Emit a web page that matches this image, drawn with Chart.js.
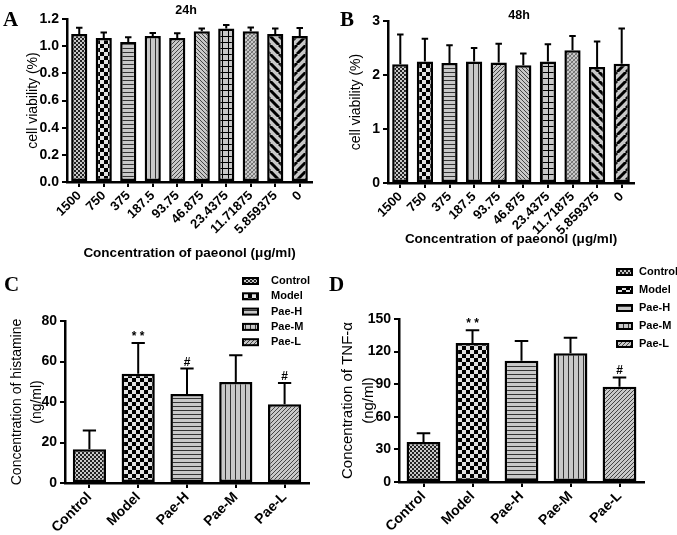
<!DOCTYPE html>
<html>
<head>
<meta charset="utf-8">
<script src="https://cdn.jsdelivr.net/npm/chart.js@4.4.0/dist/chart.umd.min.js"></script>
<style>
  body { margin: 0; background: #fff; }
  #page { position: relative; width: 677px; height: 535px; overflow: hidden; }
  canvas { position: absolute; }
  .letter { position: absolute; font: bold 21px "Liberation Serif", "Times New Roman", serif; line-height: 21px; color: #000; }
</style>
</head>
<body>
<div id="page">
  <canvas id="chartA" width="338" height="270" style="left:0;top:0"></canvas>
  <canvas id="chartB" width="339" height="270" style="left:338px;top:0"></canvas>
  <canvas id="chartC" width="338" height="265" style="left:0;top:270px"></canvas>
  <canvas id="chartD" width="339" height="273" style="left:338px;top:262px"></canvas>
  <div class="letter" style="left:3px;top:9px">A</div>
  <div class="letter" style="left:340px;top:9px">B</div>
  <div class="letter" style="left:4px;top:274px">C</div>
  <div class="letter" style="left:329px;top:274px">D</div>
</div>
<script>
// concentrations of paeonol (ug/ml)
var concLabels = ['1500', '750', '375', '187.5', '93.75', '46.875', '23.4375', '11.71875', '5.859375', '0'];
var via24 = [1.09, 1.06, 1.03, 1.075, 1.06, 1.11, 1.13, 1.11, 1.09, 1.075];
var via24Sd = [0.045, 0.04, 0.035, 0.022, 0.035, 0.02, 0.026, 0.027, 0.04, 0.059];
var via48 = [2.20, 2.25, 2.22, 2.25, 2.23, 2.18, 2.25, 2.46, 2.15, 2.21];
var via48Sd = [0.55, 0.42, 0.33, 0.25, 0.35, 0.22, 0.32, 0.26, 0.47, 0.65];
var yTicksA = [0, 0.2, 0.4, 0.6, 0.8, 1.0, 1.2];
var yTicksB = [0, 1, 2, 3];

var groups = ['Control', 'Model', 'Pae-H', 'Pae-M', 'Pae-L'];
var histamine = [16.7, 54.0, 44.0, 49.9, 38.9];
var histamineSd = [9.2, 15.1, 12.5, 13.2, 10.5];
var histamineMarks = ['', '* *', '#', '', '#'];
var tnf = [36.9, 127.9, 111.6, 118.4, 87.6];
var tnfSd = [8.0, 11.7, 18.1, 14.4, 8.6];
var tnfMarks = ['', '* *', '', '', '#'];
var yTicksC = [0, 20, 40, 60, 80];
var yTicksD = [0, 30, 60, 90, 120, 150];

Chart.defaults.font.family = '"Liberation Sans", Arial, sans-serif';
Chart.defaults.color = '#000';

// hatch fills, Prism style
function makePattern(kind) {
  var sizes = {fine: 4, checker: 8, hlines: 4, vlines: 5, fwd: 4, back: 4, grid: 6, cross: 4, bigBack: 9, bigFwd: 9};
  var s = sizes[kind];
  var c = document.createElement('canvas');
  c.width = s; c.height = s;
  var g = c.getContext('2d');
  g.fillStyle = kind == 'checker' ? '#e2e2e2' : '#c8c8c8';
  g.fillRect(0, 0, s, s);
  g.fillStyle = '#000';
  g.strokeStyle = '#000';
  function diag(w, up, col) {
    g.lineWidth = w;
    g.strokeStyle = col || '#000';
    g.beginPath();
    for (var k = -1; k <= 1; k++) {
      if (up) { g.moveTo(k * s, s); g.lineTo(k * s + s, 0); }
      else { g.moveTo(k * s, 0); g.lineTo(k * s + s, s); }
    }
    g.stroke();
  }
  if (kind == 'fine') { g.fillStyle = '#222'; g.fillRect(0, 0, 2, 2); g.fillRect(2, 2, 2, 2); }
  if (kind == 'checker') { g.fillRect(0, 0, 4, 4); g.fillRect(4, 4, 4, 4); }
  if (kind == 'hlines') { g.fillStyle = '#333'; g.fillRect(0, 0, s, 1); }
  if (kind == 'vlines') { g.fillStyle = '#333'; g.fillRect(0, 0, 1, s); }
  if (kind == 'fwd') diag(1, true, '#444');
  if (kind == 'back') diag(1, false, '#444');
  if (kind == 'grid') { g.fillRect(0, 0, s, 1); g.fillRect(0, 0, 1, s); }
  if (kind == 'cross') { diag(0.8, true, '#555'); diag(0.8, false, '#777'); }
  if (kind == 'bigBack') diag(3, false);
  if (kind == 'bigFwd') diag(3, true);
  return g.createPattern(c, 'repeat');
}

var fillsAB = ['fine', 'checker', 'hlines', 'vlines', 'fwd', 'back', 'grid', 'cross', 'bigBack', 'bigFwd'].map(makePattern);
var fillsCD = ['fine', 'checker', 'hlines', 'vlines', 'fwd'].map(makePattern);

// error bars, significance marks, panel titles and legends
var extras = {
  id: 'extras',
  afterDatasetsDraw: function(chart, args, opts) {
    var ctx = chart.ctx;
    var ds = chart.data.datasets[0];
    var meta = chart.getDatasetMeta(0);
    var ys = chart.scales.y;
    ctx.save();
    ctx.strokeStyle = '#000';
    ctx.fillStyle = '#000';
    ctx.lineWidth = 2;
    ctx.textAlign = 'center';
    ctx.textBaseline = 'alphabetic';
    ctx.font = 'bold 12px "Liberation Sans", Arial, sans-serif';
    meta.data.forEach(function(bar, i) {
      var top = ys.getPixelForValue(ds.data[i] + ds.sd[i]);
      var half = bar.width * 0.2;
      ctx.beginPath();
      ctx.moveTo(bar.x, bar.y);
      ctx.lineTo(bar.x, top);
      ctx.moveTo(bar.x - half, top);
      ctx.lineTo(bar.x + half, top);
      ctx.stroke();
      if (ds.marks && ds.marks[i]) ctx.fillText(ds.marks[i], bar.x, top - 3);
    });
    if (opts.title) {
      ctx.font = 'bold 12.5px "Liberation Sans", Arial, sans-serif';
      ctx.textBaseline = 'middle';
      ctx.fillText(opts.title.text, opts.title.x, opts.title.y);
    }
    if (opts.legend) {
      var L = opts.legend;
      ctx.font = 'bold 11px "Liberation Sans", Arial, sans-serif';
      ctx.textAlign = 'left';
      ctx.textBaseline = 'middle';
      chart.data.labels.forEach(function(lab, i) {
        var y = L.y0 + i * L.dy;
        ctx.fillStyle = ds.backgroundColor[i];
        ctx.fillRect(L.boxX, y - 3, 15, 6);
        ctx.lineWidth = 2;
        ctx.strokeRect(L.boxX, y - 3, 15, 6);
        ctx.fillStyle = '#000';
        ctx.fillText(lab, L.textX, y);
      });
    }
    ctx.restore();
  }
};

function buildChart(id, o) {
  return new Chart(document.getElementById(id), {
    type: 'bar',
    data: {
      labels: o.labels,
      datasets: [{
        data: o.values,
        sd: o.sd,
        marks: o.marks,
        backgroundColor: o.fills,
        borderColor: '#000',
        borderWidth: 2.5,
        borderSkipped: false,
        barPercentage: o.barPct,
        categoryPercentage: 1
      }]
    },
    options: {
      responsive: false,
      animation: false,
      events: [],
      layout: { padding: o.pad },
      plugins: {
        legend: { display: false },
        tooltip: { enabled: false },
        extras: o.extras
      },
      scales: {
        x: {
          grid: { offset: false, drawOnChartArea: false, color: '#000', lineWidth: 2, tickLength: 5 },
          border: { color: '#000', width: 2.5 },
          ticks: { color: '#000', font: { weight: 'bold', size: o.xFont }, minRotation: 45, maxRotation: 45, autoSkip: false, padding: 1 },
          title: o.xTitle ? {
            display: true, text: o.xTitle, color: '#000',
            font: { weight: 'bold', size: 13.5 }, padding: { top: 0, bottom: o.xTitlePad }
          } : { display: false },
          afterFit: function(s) { s.height = o.xH; }
        },
        y: {
          min: 0,
          max: o.yTicks[o.yTicks.length - 1],
          grid: { drawOnChartArea: false, color: '#000', lineWidth: 2, tickLength: 5 },
          border: { color: '#000', width: 2.5 },
          ticks: {
            stepSize: o.yTicks[1] - o.yTicks[0],
            color: '#000',
            font: { weight: 'bold', size: 14 },
            padding: 3,
            callback: function(v) { return o.decimals ? v.toFixed(o.decimals) : String(v); }
          },
          title: {
            display: true, text: o.yTitle, color: '#000',
            font: { size: o.yTitleSize, lineHeight: o.yTitleLH },
            padding: { top: o.yTitlePad, bottom: 0 }
          },
          afterFit: function(s) { s.width = o.yW; }
        }
      }
    },
    plugins: [extras]
  });
}

var chartA = buildChart('chartA', {
  labels: concLabels, values: via24, sd: via24Sd, fills: fillsAB, barPct: 0.66,
  pad: { left: 0, top: 19, right: 26, bottom: 0 }, yW: 67, xH: 88,
  yTicks: yTicksA, decimals: 1, xFont: 13,
  xTitle: 'Concentration of paeonol (μg/ml)', xTitlePad: 9,
  yTitle: 'cell viability (%)', yTitleSize: 14, yTitleLH: 1.2, yTitlePad: 25,
  extras: { title: { text: '24h', x: 186, y: 11 } }
});

var chartB = buildChart('chartB', {
  labels: concLabels, values: via48, sd: via48Sd, fills: fillsAB, barPct: 0.66,
  pad: { left: 0, top: 21, right: 43, bottom: 0 }, yW: 50, xH: 87,
  yTicks: yTicksB, decimals: 0, xFont: 13,
  xTitle: 'Concentration of paeonol (μg/ml)', xTitlePad: 23,
  yTitle: 'cell viability (%)', yTitleSize: 14, yTitleLH: 1.2, yTitlePad: 10,
  extras: { title: { text: '48h', x: 181, y: 16 } }
});

var chartC = buildChart('chartC', {
  labels: groups, values: histamine, sd: histamineSd, marks: histamineMarks, fills: fillsCD, barPct: 0.68,
  pad: { left: 0, top: 51, right: 29, bottom: 0 }, yW: 65, xH: 52,
  yTicks: yTicksC, decimals: 0, xFont: 14,
  yTitle: ['Concentration of histamine', '(ng/ml)'], yTitleSize: 14, yTitleLH: 1.43, yTitlePad: 7,
  extras: { legend: { boxX: 243, textX: 271, y0: 11, dy: 15.3 } }
});

var chartD = buildChart('chartD', {
  labels: groups, values: tnf, sd: tnfSd, marks: tnfMarks, fills: fillsCD, barPct: 0.69,
  pad: { left: 0, top: 57, right: 33, bottom: 0 }, yW: 61, xH: 53,
  yTicks: yTicksD, decimals: 0, xFont: 14,
  yTitle: ['Concentration of TNF-α', '(ng/ml)'], yTitleSize: 15, yTitleLH: 1.35, yTitlePad: 0,
  extras: { legend: { boxX: 279, textX: 301, y0: 10, dy: 18 } }
});
</script>
</body>
</html>
